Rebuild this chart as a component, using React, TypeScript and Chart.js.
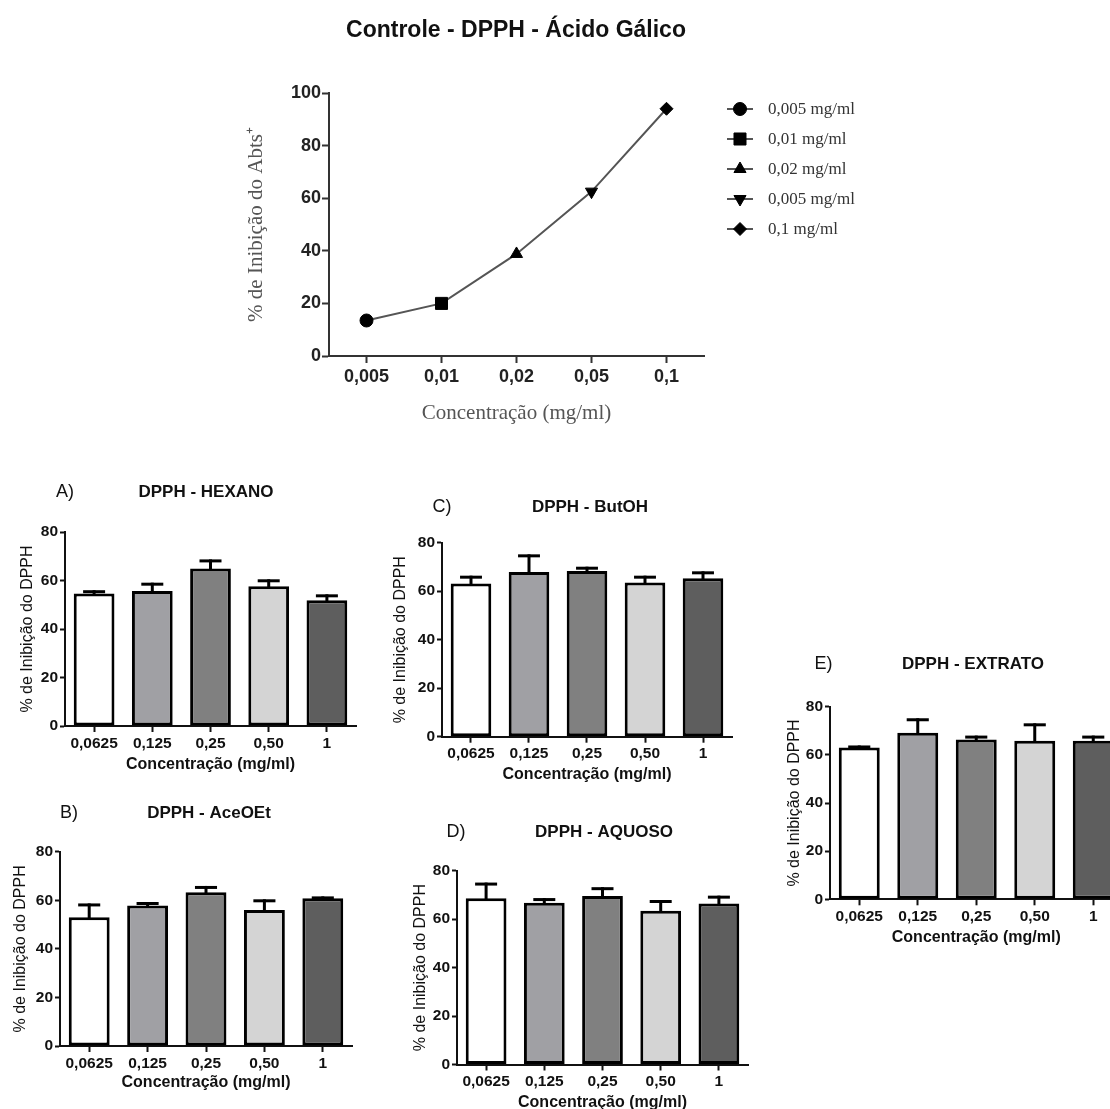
import React, { useEffect, useRef } from 'react';
import { Chart, registerables } from 'chart.js';
import { drawPoint } from 'chart.js/helpers';

Chart.register(...registerables);

// ---------------- data ----------------
const controlTitle = 'Controle - DPPH - Ácido Gálico';
const controlConcentrations = ['0,005', '0,01', '0,02', '0,05', '0,1'];
const controlInhibition = [13.5, 20.0, 38.8, 62.5, 94.0];
const controlLegendLabels = ['0,005 mg/ml', '0,01 mg/ml', '0,02 mg/ml', '0,005 mg/ml', '0,1 mg/ml'];
const controlYTicks = [0, 20, 40, 60, 80, 100];

const extractConcentrations = ['0,0625', '0,125', '0,25', '0,50', '1'];
const extractYTicks = [0, 20, 40, 60, 80];

const hexanoMeans = [54.6, 55.7, 65.0, 57.6, 51.9];
const hexanoErrors = [1.4, 3.4, 3.7, 2.9, 2.4];

const aceoetMeans = [53.0, 57.8, 63.3, 56.0, 60.8];
const aceoetErrors = [5.7, 1.5, 2.6, 4.4, 0.8];

const butohMeans = [63.2, 67.9, 68.3, 63.6, 65.3];
const butohErrors = [3.2, 7.3, 1.8, 2.8, 2.9];

const aquosoMeans = [68.6, 66.8, 69.6, 63.5, 66.5];
const aquosoErrors = [6.5, 1.9, 3.6, 4.4, 3.2];

const extratoMeans = [63.1, 69.2, 66.4, 65.9, 65.9];
const extratoErrors = [0.8, 6.0, 1.6, 7.2, 2.1];

// ---------------- styles ----------------
const SANS = '"Liberation Sans", Arial, sans-serif';
const SERIF = '"Liberation Serif", "Times New Roman", serif';
const markerStyles = ['circle', 'rect', 'triangle', 'triangle', 'rectRot'];
const markerRotations = [0, 0, 0, 180, 0];
const markerRadii = [6.5, 8.5, 7, 7, 6.5];
const barFills = ['#ffffff', '#a0a0a4', '#808080', '#d4d4d4', '#5e5e5e'];

// ---------------- layout (page pixels) ----------------
const topLayout = {
  canvas: { x: 0, y: 0, w: 900, h: 450 },
  L: 329, R: 704, T: 93, B: 356,
  yTitleX: 256, xTitleY: 413,
  titleX: 516, titleY: 31,
  legend: { lineX0: 727, lineX1: 753, markerX: 740, textX: 768, y0: 109, dy: 30 },
};

const panels = [
  { letter: 'A)', title: 'DPPH - HEXANO', means: hexanoMeans, errors: hexanoErrors,
    canvas: { x: 0, y: 465, w: 375, h: 320 },
    L: 65, R: 356, T: 532, B: 726, yTitleX: 28, xTitleY: 765, titleX: 206, titleY: 492, letterX: 65 },
  { letter: 'B)', title: 'DPPH - AceOEt', means: aceoetMeans, errors: aceoetErrors,
    canvas: { x: 0, y: 785, w: 372, h: 330 },
    L: 60, R: 352, T: 851.7, B: 1046, yTitleX: 21, xTitleY: 1083, titleX: 209, titleY: 813, letterX: 69 },
  { letter: 'C)', title: 'DPPH - ButOH', means: butohMeans, errors: butohErrors,
    canvas: { x: 375, y: 480, w: 372, h: 315 },
    L: 442, R: 732, T: 542.7, B: 736.7, yTitleX: 401, xTitleY: 775, titleX: 590, titleY: 507, letterX: 442 },
  { letter: 'D)', title: 'DPPH - AQUOSO', means: aquosoMeans, errors: aquosoErrors,
    canvas: { x: 375, y: 800, w: 385, h: 320 },
    L: 457, R: 748, T: 870.7, B: 1064.5, yTitleX: 421, xTitleY: 1103, titleX: 604, titleY: 832, letterX: 456 },
  { letter: 'E)', title: 'DPPH - EXTRATO', means: extratoMeans, errors: extratoErrors,
    canvas: { x: 760, y: 640, w: 380, h: 320 },
    L: 830, R: 1122.5, T: 706.7, B: 899.3, yTitleX: 795, xTitleY: 938, titleX: 973, titleY: 664, letterX: 823.5 },
];

function textPlugin(items: any[]) {
  return {
    id: 'panelText',
    afterDraw(chart: any) {
      const ctx = chart.ctx;
      items.forEach((t) => {
        ctx.save();
        ctx.font = t.font;
        ctx.fillStyle = t.color;
        ctx.textAlign = 'center';
        ctx.textBaseline = 'middle';
        ctx.fillText(t.text, t.x, t.y);
        ctx.restore();
      });
    },
  };
}

function makeTopConfig() {
  const p = topLayout;
  const c = p.canvas;
  const titleFont = 21;
  const lh = titleFont * 1.2;
  const Wy = (p.L - p.yTitleX) + lh / 2;
  const Hx = (p.xTitleY - p.B) + lh / 2;
  const padding = {
    left: p.L - Wy - c.x,
    top: p.T - c.y,
    right: c.x + c.w - p.R,
    bottom: c.y + c.h - p.B - Hx,
  };
  const legendPlugin = {
    id: 'markerLegend',
    afterDraw(chart: any) {
      const ctx = chart.ctx;
      const lg = p.legend;
      controlLegendLabels.forEach((label, i) => {
        const y = lg.y0 + i * lg.dy - c.y;
        ctx.save();
        ctx.strokeStyle = '#555';
        ctx.lineWidth = 2;
        ctx.beginPath();
        ctx.moveTo(lg.lineX0 - c.x, y);
        ctx.lineTo(lg.lineX1 - c.x, y);
        ctx.stroke();
        ctx.fillStyle = '#000';
        ctx.strokeStyle = '#000';
        ctx.lineWidth = 1;
        drawPoint(ctx, { pointStyle: markerStyles[i], rotation: markerRotations[i], radius: markerRadii[i], borderWidth: 1 } as any, lg.markerX - c.x, y);
        ctx.font = `17px ${SERIF}`;
        ctx.fillStyle = '#333';
        ctx.textAlign = 'left';
        ctx.textBaseline = 'middle';
        ctx.fillText(label, lg.textX - c.x, y + 1);
        ctx.restore();
      });
    },
  };
  return {
    type: 'line',
    data: {
      labels: controlConcentrations,
      datasets: [{
        data: controlInhibition,
        borderColor: '#555',
        borderWidth: 2,
        tension: 0,
        fill: false,
        pointStyle: markerStyles,
        pointRotation: markerRotations,
        pointRadius: markerRadii,
        pointBackgroundColor: '#000',
        pointBorderColor: '#000',
        pointBorderWidth: 1,
      }],
    },
    options: {
      responsive: false,
      animation: false,
      layout: { padding },
      plugins: { legend: { display: false }, tooltip: { enabled: false }, title: { display: false } },
      scales: {
        x: {
          type: 'category',
          offset: true,
          grid: { display: true, drawOnChartArea: false, drawTicks: true, tickLength: 7, tickWidth: 2, color: '#333', offset: false },
          border: { display: true, color: '#333', width: 2 },
          ticks: { color: '#222', font: { family: SANS, size: 18, weight: 'bold' }, padding: 3, maxRotation: 0, autoSkip: false },
          title: { display: true, text: 'Concentração (mg/ml)', color: '#555', font: { family: SERIF, size: titleFont }, padding: 0 },
          afterFit: (s: any) => { s.height = Hx; },
        },
        y: {
          min: controlYTicks[0],
          max: controlYTicks[controlYTicks.length - 1],
          grid: { display: true, drawOnChartArea: false, drawTicks: true, tickLength: 7, tickWidth: 2, color: '#333' },
          border: { display: true, color: '#333', width: 2 },
          ticks: { stepSize: controlYTicks[1] - controlYTicks[0], color: '#222', font: { family: SANS, size: 18, weight: 'bold' }, padding: 1 },
          title: { display: true, text: '% de Inibição do Abts⁺', color: '#555', font: { family: SERIF, size: titleFont }, padding: 0 },
          afterFit: (s: any) => { s.width = Wy; },
        },
      },
    },
    plugins: [
      legendPlugin,
      textPlugin([{ text: controlTitle, x: p.titleX - c.x, y: p.titleY - c.y, font: `bold 23px ${SANS}`, color: '#111' }]),
    ],
  };
}

function makeBarConfig(p: any) {
  const c = p.canvas;
  const titleFont = 16;
  const lh = titleFont * 1.2;
  const Wy = (p.L - p.yTitleX) + lh / 2;
  const Hx = (p.xTitleY - p.B) + lh / 2;
  const padding = {
    left: p.L - Wy - c.x,
    top: p.T - c.y,
    right: c.x + c.w - p.R,
    bottom: c.y + c.h - p.B - Hx,
  };
  const errorPlugin = {
    id: 'errorBars',
    afterDatasetsDraw(chart: any) {
      const ctx = chart.ctx;
      const meta = chart.getDatasetMeta(0);
      const ys = chart.scales.y;
      ctx.save();
      ctx.strokeStyle = '#000';
      ctx.lineWidth = 3;
      meta.data.forEach((bar: any, i: number) => {
        const yTop = ys.getPixelForValue(p.means[i] + p.errors[i]);
        const half = bar.width * 0.27;
        ctx.beginPath();
        ctx.moveTo(bar.x, bar.y + 2);
        ctx.lineTo(bar.x, yTop);
        ctx.stroke();
        ctx.beginPath();
        ctx.moveTo(bar.x - half, yTop + 1.5);
        ctx.lineTo(bar.x + half, yTop + 1.5);
        ctx.stroke();
      });
      ctx.restore();
    },
  };
  return {
    type: 'bar',
    data: {
      labels: extractConcentrations,
      datasets: [{
        data: p.means,
        backgroundColor: barFills,
        borderColor: '#000',
        borderWidth: 3,
        borderSkipped: false,
        barPercentage: 0.7,
        categoryPercentage: 1,
      }],
    },
    options: {
      responsive: false,
      animation: false,
      layout: { padding },
      plugins: { legend: { display: false }, tooltip: { enabled: false }, title: { display: false } },
      scales: {
        x: {
          type: 'category',
          offset: true,
          grid: { display: true, drawOnChartArea: false, drawTicks: true, tickLength: 6, tickWidth: 2, color: '#111', offset: false },
          border: { display: true, color: '#111', width: 2 },
          ticks: { color: '#111', font: { family: SANS, size: 15.5, weight: 'bold' }, padding: 2, maxRotation: 0, autoSkip: false },
          title: { display: true, text: 'Concentração (mg/ml)', color: '#111', font: { family: SANS, size: titleFont, weight: 'bold' }, padding: 0 },
          afterFit: (s: any) => { s.height = Hx; },
        },
        y: {
          min: extractYTicks[0],
          max: extractYTicks[extractYTicks.length - 1],
          grid: { display: true, drawOnChartArea: false, drawTicks: true, tickLength: 5, tickWidth: 2, color: '#111' },
          border: { display: true, color: '#111', width: 2 },
          ticks: { stepSize: extractYTicks[1] - extractYTicks[0], color: '#111', font: { family: SANS, size: 15.5, weight: 'bold' }, padding: 2 },
          title: { display: true, text: '% de Inibição do DPPH', color: '#111', font: { family: SANS, size: titleFont }, padding: 0 },
          afterFit: (s: any) => { s.width = Wy; },
        },
      },
    },
    plugins: [
      errorPlugin,
      textPlugin([
        { text: p.letter, x: p.letterX - c.x, y: p.titleY - c.y, font: `18px ${SANS}`, color: '#111' },
        { text: p.title, x: p.titleX - c.x, y: p.titleY - c.y, font: `bold 17px ${SANS}`, color: '#111' },
      ]),
    ],
  };
}

function ChartCanvas({ box, makeConfig }: { box: any; makeConfig: () => any }) {
  const ref = useRef<HTMLCanvasElement | null>(null);
  useEffect(() => {
    if (!ref.current) return;
    const chart = new Chart(ref.current, makeConfig() as any);
    return () => chart.destroy();
  }, []);
  return (
    <canvas
      ref={ref}
      width={box.w}
      height={box.h}
      style={{ position: 'absolute', left: box.x, top: box.y, width: box.w, height: box.h }}
    />
  );
}

export default function App() {
  return (
    <div style={{ position: 'absolute', left: 0, top: 0, width: 1110, height: 1109, overflow: 'hidden', background: '#fff' }}>
      <ChartCanvas box={topLayout.canvas} makeConfig={makeTopConfig} />
      {panels.map((p) => (
        <ChartCanvas key={p.letter} box={p.canvas} makeConfig={() => makeBarConfig(p)} />
      ))}
    </div>
  );
}
